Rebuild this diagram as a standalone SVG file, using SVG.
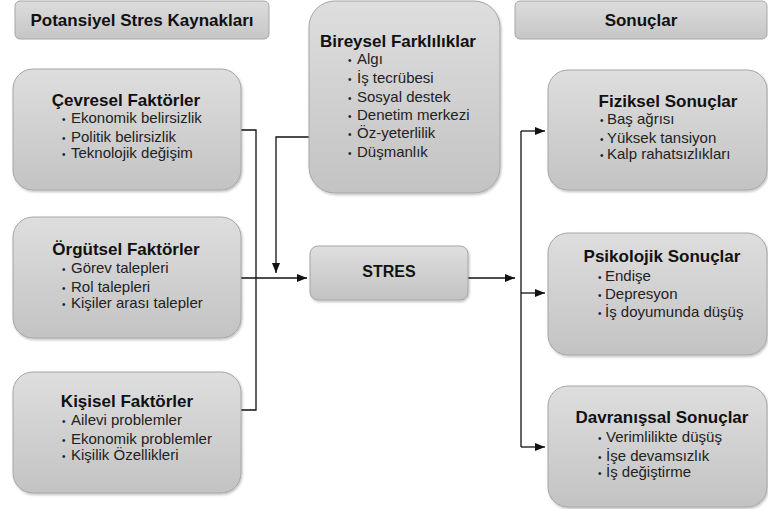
<svg xmlns="http://www.w3.org/2000/svg" width="768" height="509" viewBox="0 0 768 509">
<style>
  .box { fill: url(#g); stroke: #a6a6a6; stroke-width: 1; filter: url(#sh); }
  .hdr { fill: url(#g2); stroke: #a6a6a6; stroke-width: 1; }
  .t { font-family: "Liberation Sans", Arial, sans-serif; font-weight: bold; font-size: 17px; fill: #111; text-anchor: middle; }
  .h { font-family: "Liberation Sans", Arial, sans-serif; font-weight: bold; font-size: 17px; fill: #111; text-anchor: middle; }
  .b { font-family: "Liberation Sans", Arial, sans-serif; font-size: 15px; fill: #222; }
  .d { font-family: "Liberation Sans", Arial, sans-serif; font-size: 10px; fill: #222; }
  .c { fill: none; stroke: #111; stroke-width: 1.3; }
</style>
<defs>
  <linearGradient id="g" x1="0" y1="0" x2="0" y2="1">
    <stop offset="0" stop-color="#dedede"/>
    <stop offset="1" stop-color="#c3c3c3"/>
  </linearGradient>
  <linearGradient id="g2" x1="0" y1="0" x2="0" y2="1">
    <stop offset="0" stop-color="#dcdcdc"/>
    <stop offset="1" stop-color="#c6c6c6"/>
  </linearGradient>
  <filter id="sh" x="-10%" y="-10%" width="120%" height="120%">
    <feDropShadow dx="1" dy="1.5" stdDeviation="1.2" flood-color="#000" flood-opacity="0.25"/>
  </filter>
  <marker id="ar" markerUnits="userSpaceOnUse" markerWidth="10" markerHeight="8" refX="10" refY="4" orient="auto">
    <path d="M0,0 L10,4 L0,8 z" fill="#111"/>
  </marker>
</defs>
<rect width="768" height="509" fill="#fff"/>

<g id="hdr-left">
  <rect class="hdr" x="15" y="1" width="254" height="38" rx="5"/>
  <text class="h" x="142" y="26">Potansiyel Stres Kaynakları</text>
</g>
<g id="hdr-right">
  <rect class="hdr" x="515" y="1" width="252" height="38" rx="5"/>
  <text class="h" x="641" y="26">Sonuçlar</text>
</g>

<g id="connectors">
  <path class="c" d="M241,130 H256 V410 H241"/>
  <path class="c" d="M241,278 H307" marker-end="url(#ar)"/>
  <path class="c" d="M309,137 H276 V273" marker-end="url(#ar)"/>
  <path class="c" d="M468,278 H515" marker-end="url(#ar)"/>
  <path class="c" d="M521,131 V447"/>
  <path class="c" d="M521,131 H545" marker-end="url(#ar)"/>
  <path class="c" d="M521,293 H545" marker-end="url(#ar)"/>
  <path class="c" d="M521,447 H545" marker-end="url(#ar)"/>
</g>

<g id="bireysel">
  <rect class="box" x="309" y="1" width="191" height="192" rx="26"/>
  <text class="t" x="398" y="47">Bireysel Farklılıklar</text>
  <text class="d" x="348" y="64">•</text><text class="b" x="357" y="64">Algı</text>
  <text class="d" x="348" y="83">•</text><text class="b" x="357" y="83">İş tecrübesi</text>
  <text class="d" x="348" y="102">•</text><text class="b" x="357" y="102">Sosyal destek</text>
  <text class="d" x="348" y="120">•</text><text class="b" x="357" y="120">Denetim merkezi</text>
  <text class="d" x="348" y="138">•</text><text class="b" x="357" y="138">Öz-yeterlilik</text>
  <text class="d" x="348" y="157">•</text><text class="b" x="357" y="157">Düşmanlık</text>
</g>

<g id="cevresel">
  <rect class="box" x="13" y="69" width="228" height="121" rx="20"/>
  <text class="t" x="126" y="106">Çevresel Faktörler</text>
  <text class="d" x="62" y="123">•</text><text class="b" x="71" y="123">Ekonomik belirsizlik</text>
  <text class="d" x="62" y="142">•</text><text class="b" x="71" y="142">Politik belirsizlik</text>
  <text class="d" x="62" y="158">•</text><text class="b" x="71" y="158">Teknolojik değişim</text>
</g>

<g id="orgutsel">
  <rect class="box" x="13" y="217" width="228" height="121" rx="20"/>
  <text class="t" x="126" y="255">Örgütsel Faktörler</text>
  <text class="d" x="62" y="273">•</text><text class="b" x="71" y="273">Görev talepleri</text>
  <text class="d" x="62" y="292">•</text><text class="b" x="71" y="292">Rol talepleri</text>
  <text class="d" x="62" y="308">•</text><text class="b" x="71" y="308">Kişiler arası talepler</text>
</g>

<g id="kisisel">
  <rect class="box" x="13" y="372" width="228" height="121" rx="20"/>
  <text class="t" x="127" y="407">Kişisel Faktörler</text>
  <text class="d" x="62" y="425">•</text><text class="b" x="71" y="425">Ailevi problemler</text>
  <text class="d" x="62" y="444">•</text><text class="b" x="71" y="444">Ekonomik problemler</text>
  <text class="d" x="62" y="460">•</text><text class="b" x="71" y="460">Kişilik Özellikleri</text>
</g>

<g id="stres">
  <rect class="box" x="310" y="246" width="158" height="54" rx="8"/>
  <text class="h" x="389" y="277" style="font-size:16px">STRES</text>
</g>

<g id="fiziksel">
  <rect class="box" x="548" y="70" width="219" height="120" rx="20"/>
  <text class="t" x="668" y="107">Fiziksel Sonuçlar</text>
  <text class="d" x="600" y="124">•</text><text class="b" x="607" y="124">Baş ağrısı</text>
  <text class="d" x="600" y="143">•</text><text class="b" x="607" y="143">Yüksek tansiyon</text>
  <text class="d" x="600" y="159">•</text><text class="b" x="607" y="159">Kalp rahatsızlıkları</text>
</g>

<g id="psikolojik">
  <rect class="box" x="548" y="233" width="219" height="122" rx="20"/>
  <text class="t" x="662" y="262">Psikolojik Sonuçlar</text>
  <text class="d" x="598" y="281">•</text><text class="b" x="605" y="281">Endişe</text>
  <text class="d" x="598" y="299">•</text><text class="b" x="605" y="299">Depresyon</text>
  <text class="d" x="598" y="317">•</text><text class="b" x="605" y="317">İş doyumunda düşüş</text>
</g>

<g id="davranissal">
  <rect class="box" x="548" y="386" width="219" height="121" rx="20"/>
  <text class="t" x="662" y="423">Davranışsal Sonuçlar</text>
  <text class="d" x="598" y="442">•</text><text class="b" x="606" y="442">Verimlilikte düşüş</text>
  <text class="d" x="598" y="461">•</text><text class="b" x="606" y="461">İşe devamsızlık</text>
  <text class="d" x="598" y="477">•</text><text class="b" x="606" y="477">İş değiştirme</text>
</g>
</svg>
